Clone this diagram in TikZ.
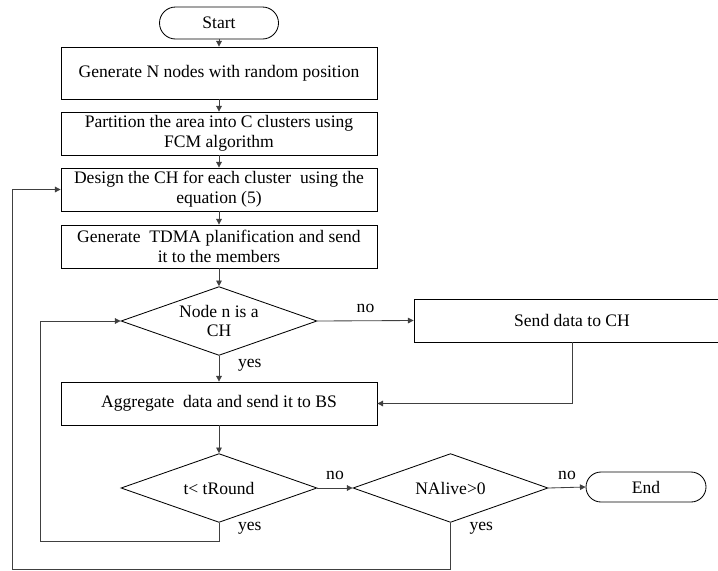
\documentclass[tikz,border=0pt]{standalone}
\usepackage{fontspec}
\setmainfont{Liberation Serif}
\usetikzlibrary{shapes.geometric, arrows.meta}
\definecolor{flowline}{RGB}{64, 64, 64}

\begin{document}
\begin{tikzpicture}[
    font=\fontsize{12.5}{14.2}\selectfont,
    block/.style={draw, rectangle, minimum width=7.9cm, minimum height=#1, align=center, inner sep=2pt},
    block/.default=1.075cm,
    decision/.style={draw, diamond, aspect=2.8, minimum width=#1, minimum height=1.72cm, inner sep=0pt, align=center},
    decision/.default=4.9cm,
    terminal/.style={draw, rectangle, rounded corners=#1, align=center},
    arrow/.style={draw=flowline, -{Triangle[length=4pt, width=4pt]}},
    line width=0.6pt
]

    % ==========================================
    % FRAME
    % ==========================================
    \useasboundingbox (0, 0) rectangle (17.95, -14.25);

    % ==========================================
    % MAIN COLUMN
    % ==========================================
    \node[terminal=0.4cm, minimum width=2.975cm, minimum height=0.8cm] (start) at (5.475, -0.575) {Start};

    \node[block=1.3cm] (gen) at (5.475, -1.825) {Generate N nodes with random position};
    \node[block] (part) at (5.475, -3.3375) {Partition the area into C clusters using\\FCM algorithm};
    \node[block] (design) at (5.475, -4.7375) {Design the CH for each cluster\ \ using the\\equation (5)};
    \node[block] (tdma) at (5.475, -6.1625) {Generate\ \ TDMA planification and send\\it to the members};

    \node[decision] (isch) at (5.475, -8.025) {Node n is a\\CH};
    \node[block] (send) at (14.3, -8.0125) {Send data to CH};
    \node[block] (aggr) at (5.475, -10.0875) {Aggregate\ \ data and send it to BS};

    % ==========================================
    % BOTTOM ROW
    % ==========================================
    \node[decision] (round) at (5.475, -12.2) {t< tRound};
    \node[decision=4.875cm] (alive) at (11.2625, -12.2) {NAlive>0};
    \node[terminal=0.375cm, minimum width=3cm, minimum height=0.75cm] (end) at (16.15, -12.175) {End};

    % loop corners
    \coordinate (inner) at (1.0, -13.525);
    \coordinate (outer) at (0.3, -14.225);

    % ==========================================
    % CONNECTORS
    % ==========================================
    \draw[arrow] (start) -- (gen);
    \draw[arrow] (gen) -- (part);
    \draw[arrow] (part) -- (design);
    \draw[arrow] (design) -- (tdma);
    \draw[arrow] (tdma) -- (isch);

    \draw[arrow] (isch.east) -- (send.west) node[midway, above, yshift=2pt] {no};
    \draw[arrow] (isch.south) -- (aggr.north) node[pos=0.35, anchor=west, xshift=0.35cm] {yes};
    \draw[arrow] (send.south) |- (aggr.east);

    \draw[arrow] (aggr) -- (round);
    \draw[arrow] (round.east) -- (alive.west) node[midway, above, yshift=2pt] {no};
    \draw[arrow] (alive.east) -- (end.west) node[midway, above, yshift=2pt] {no};

    % ==========================================
    % LOOPS BACK
    % ==========================================
    \draw[arrow] (round.south) node[anchor=west, xshift=0.35cm, yshift=-0.13cm] {yes}
        |- (inner) |- (isch.west);
    \draw[arrow] (alive.south) node[anchor=west, xshift=0.35cm, yshift=-0.13cm] {yes}
        |- (outer) |- (design.west);

\end{tikzpicture}
\end{document}
